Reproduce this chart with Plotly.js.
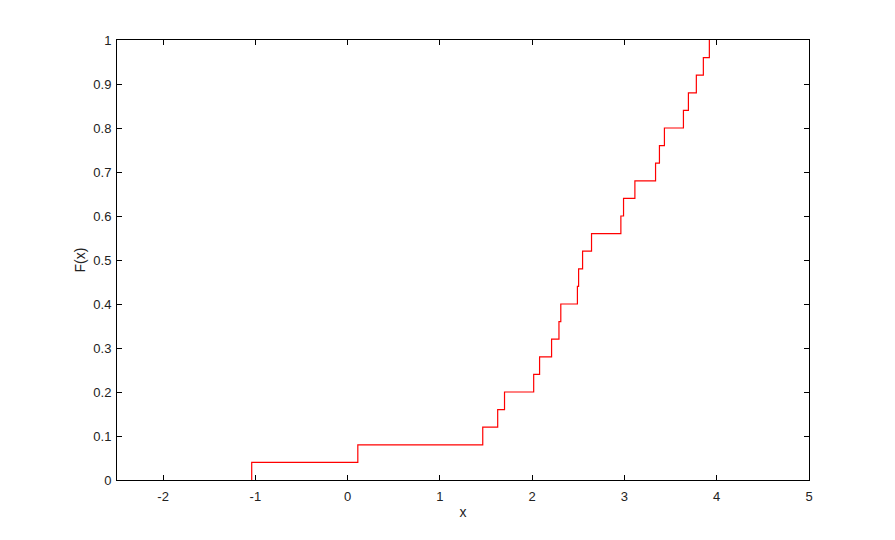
<!DOCTYPE html>
<html>
<head>
<meta charset="utf-8">
<script src="https://cdn.plot.ly/plotly-3.0.1.min.js"></script>
<style>html,body{margin:0;padding:0;background:#fff}#chart{width:895px;height:540px}</style>
</head>
<body>
<div id="chart"></div>
<script>
// Sorted sample values (jump locations of the empirical CDF)
var sampleX = [-1.04, 0.11, 1.464, 1.626, 1.70, 2.016, 2.08, 2.21, 2.29, 2.31,
               2.49, 2.503, 2.546, 2.643, 2.961, 2.99, 3.113, 3.337, 3.379, 3.433,
               3.639, 3.693, 3.779, 3.855, 3.92];
// CDF level just before each jump, plus the final level
var cdfLevels = [0, 0.04, 0.08, 0.12, 0.16, 0.20, 0.24, 0.28, 0.32, 0.36,
                 0.40, 0.44, 0.48, 0.52, 0.56, 0.60, 0.64, 0.68, 0.72, 0.76,
                 0.80, 0.84, 0.88, 0.92, 0.96, 1.0];
var xTicks = [-2, -1, 0, 1, 2, 3, 4, 5];
var yTicks = [0, 0.1, 0.2, 0.3, 0.4, 0.5, 0.6, 0.7, 0.8, 0.9, 1];

var lx = sampleX.concat([sampleX[sampleX.length - 1]]);
var trace = {
  x: lx, y: cdfLevels, type: 'scatter', mode: 'lines',
  line: {shape: 'vh', color: '#ff0000', width: 1.2},
  hoverinfo: 'skip', showlegend: false, cliponaxis: true
};

var axisCommon = {
  showgrid: false, zeroline: false, showline: true, linecolor: '#000', linewidth: 1,
  mirror: 'ticks', ticks: 'inside', ticklen: 5, tickcolor: '#000', tickwidth: 1,
  tickfont: {family: 'Liberation Sans, Arial, sans-serif', size: 13, color: '#222'}
};

var layout = {
  width: 895, height: 540,
  margin: {l: 117, r: 86, t: 40, b: 60},
  paper_bgcolor: '#fff', plot_bgcolor: '#fff',
  font: {family: 'Liberation Sans, Arial, sans-serif', color: '#222'},
  xaxis: Object.assign({}, axisCommon, {
    range: [-2.5, 5], tickvals: xTicks, ticktext: xTicks.map(String),
    ticklabelstandoff: 4,
    title: {text: 'x', font: {size: 14}, standoff: 4}
  }),
  yaxis: Object.assign({}, axisCommon, {
    range: [0, 1], tickvals: yTicks, ticktext: yTicks.map(String),
    ticklabelstandoff: 2,
    title: {text: 'F(x)', font: {size: 14}, standoff: 4}
  })
};

Plotly.newPlot('chart', [trace], layout, {staticPlot: true, displayModeBar: false});
</script>
</body>
</html>
